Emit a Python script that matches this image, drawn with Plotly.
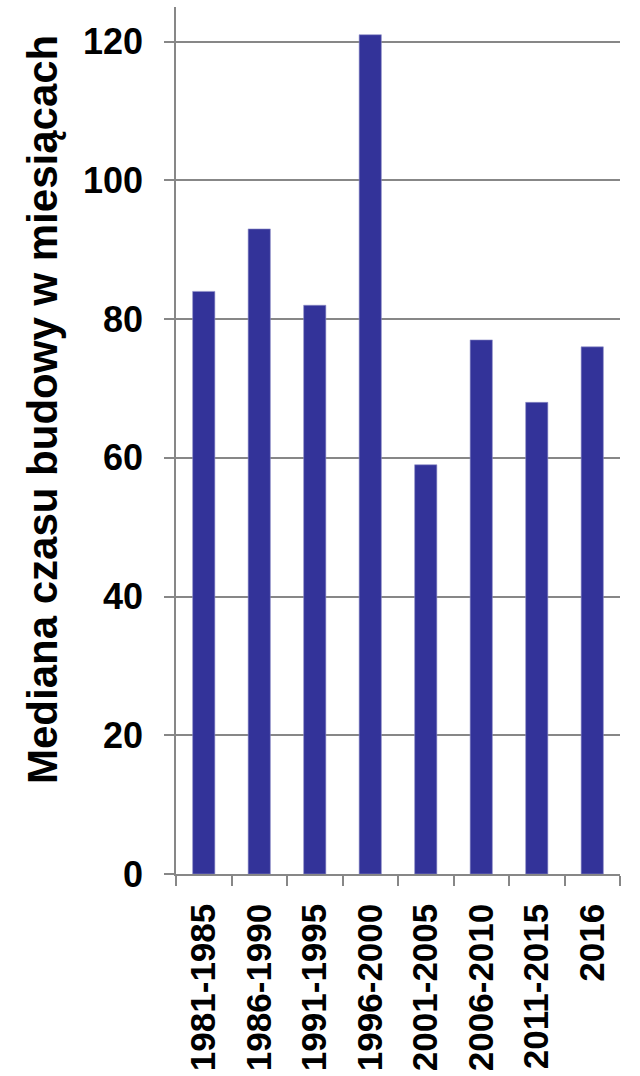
import plotly.graph_objects as go

# Median construction time per period (months)
periods = ["1981-1985", "1986-1990", "1991-1995", "1996-2000",
           "2001-2005", "2006-2010", "2011-2015", "2016"]
median_months = [84, 93, 82, 121, 59, 77, 68, 76]
y_ticks = [0, 20, 40, 60, 80, 100, 120]
y_title = "Mediana czasu budowy w miesiącach"

FONT = "Liberation Sans, Arial, sans-serif"
GRID = "#878787"

ML, MR, MT, MB = 176, 20, 7, 202
W, H = 640, 1076
plot_w = W - ML - MR
plot_h = H - MT - MB

fig = go.Figure(
    go.Bar(
        x=periods,
        y=median_months,
        marker=dict(color="#333399", line=dict(color="#8f8fc8", width=0.6)),
        width=0.4,
    )
)

fig.update_layout(
    width=W,
    height=H,
    margin=dict(l=ML, r=MR, t=MT, b=MB),
    plot_bgcolor="white",
    paper_bgcolor="white",
    showlegend=False,
    font=dict(family=FONT, color="black"),
)

fig.update_xaxes(
    type="category",
    automargin=False,
    tickson="boundaries",
    ticks="outside",
    ticklen=10,
    tickwidth=1.5,
    tickcolor=GRID,
    showline=True,
    linecolor=GRID,
    linewidth=1.5,
    showgrid=False,
    tickangle=-90,
    ticklabelstandoff=14,
    tickfont=dict(family=FONT, size=35, color="black", weight="bold"),
)

fig.update_yaxes(
    range=[0, 125],
    automargin=False,
    tickvals=y_ticks,
    ticks="outside",
    ticklen=10,
    tickwidth=1.5,
    tickcolor=GRID,
    showline=True,
    linecolor=GRID,
    linewidth=1.5,
    showgrid=True,
    gridcolor=GRID,
    gridwidth=1.5,
    zeroline=False,
    ticklabelstandoff=14,
    tickfont=dict(family=FONT, size=36, color="black", weight="bold"),
)

# Vertical axis title placed as a rotated annotation
fig.add_annotation(
    text=y_title,
    xref="paper", yref="paper",
    x=(42 - ML) / plot_w,
    y=(H - MB - 410) / plot_h,
    xanchor="center", yanchor="middle",
    textangle=-90,
    showarrow=False,
    font=dict(family=FONT, size=42, color="black", weight="bold"),
)

fig.write_html("out.html")
